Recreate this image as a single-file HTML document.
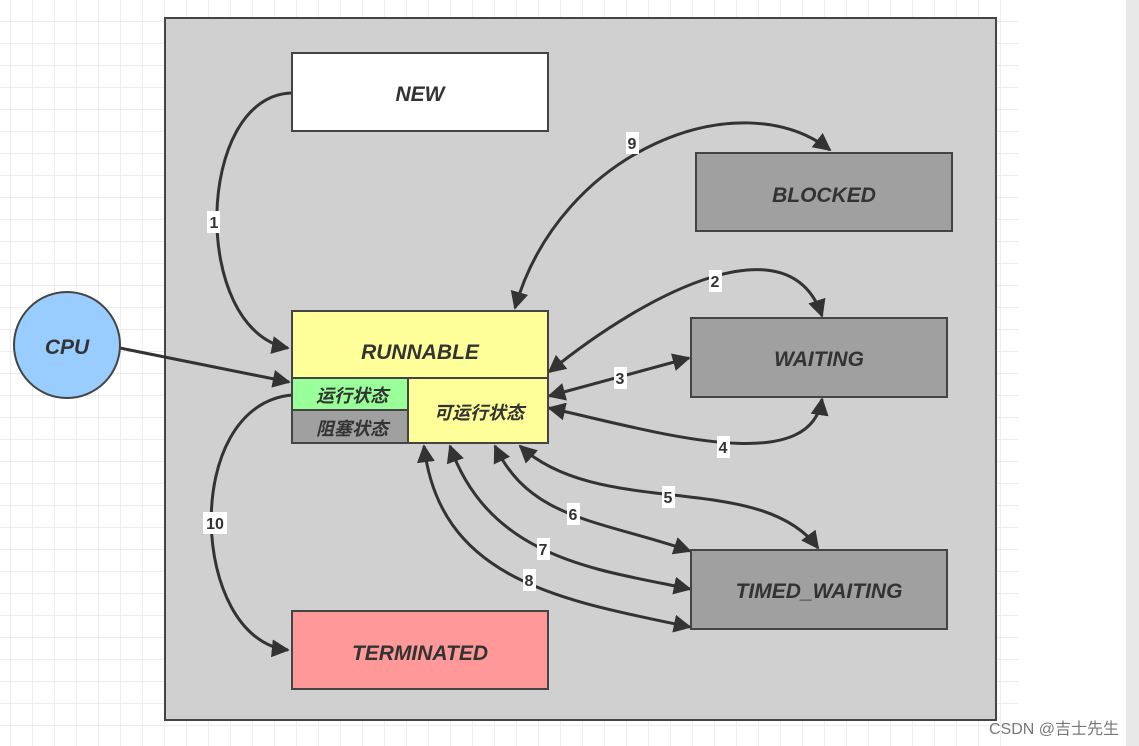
<!DOCTYPE html>
<html><head><meta charset="utf-8"><style>
html,body{margin:0;padding:0;background:#fff;width:1139px;height:746px;overflow:hidden}
svg{display:block}
text{font-family:"Liberation Sans","Noto Sans CJK SC",sans-serif}
.t{font-weight:bold;font-style:italic;font-size:21px;fill:#333;text-anchor:middle}
.c{font-weight:bold;font-style:italic;font-size:18px;fill:#333;text-anchor:middle}
.l{font-weight:bold;font-size:16px;fill:#333;text-anchor:middle}
</style></head><body>
<svg width="1139" height="746" viewBox="0 0 1139 746">
<defs>
<pattern id="g" width="22" height="22" patternUnits="userSpaceOnUse" x="-11" y="0">
<path d="M22 0V22M0 22H22" stroke="#e6e6e6" stroke-width="1.4" fill="none"/>
</pattern>
<marker id="a" viewBox="0 0 10 10" refX="9" refY="5" markerWidth="18" markerHeight="18" markerUnits="userSpaceOnUse" orient="auto-start-reverse">
<path d="M0 0L10 5L0 10z" fill="#333"/>
</marker>
</defs>
<rect x="0" y="0" width="1018" height="746" fill="url(#g)"/>
<rect x="1126" y="0" width="13" height="746" fill="#e8e8e8"/>
<rect x="165" y="18" width="831" height="702" fill="#d0d0d0" stroke="#444" stroke-width="2"/>

<g fill="none" stroke="#333" stroke-width="3">
<path d="M292,93 C195,95 190,330 288,348" marker-end="url(#a)"/>
<path d="M120,348 L289,382" marker-end="url(#a)"/>
<path d="M292,395 C180,405 190,640 288,650" marker-end="url(#a)"/>
<path d="M515,308 C560,150 740,80 830,150" marker-start="url(#a)" marker-end="url(#a)"/>
<path d="M549,372 C650,290 790,220 822,316" marker-start="url(#a)" marker-end="url(#a)"/>
<path d="M549,396 L689,358" marker-start="url(#a)" marker-end="url(#a)"/>
<path d="M549,408 C650,430 810,480 822,399" marker-start="url(#a)" marker-end="url(#a)"/>
<path d="M520,446 C600,520 760,470 818,548" marker-start="url(#a)" marker-end="url(#a)"/>
<path d="M495,446 C530,520 600,520 690,551" marker-start="url(#a)" marker-end="url(#a)"/>
<path d="M450,446 C490,560 600,570 690,589" marker-start="url(#a)" marker-end="url(#a)"/>
<path d="M424,446 C440,580 560,600 690,627" marker-start="url(#a)" marker-end="url(#a)"/>
</g>

<g stroke="#444" stroke-width="2">
<rect x="292" y="53" width="256" height="78" fill="#fff"/>
<rect x="696" y="153" width="256" height="78" fill="#a0a0a0"/>
<rect x="691" y="318" width="256" height="79" fill="#a0a0a0"/>
<rect x="691" y="550" width="256" height="79" fill="#a0a0a0"/>
<rect x="292" y="611" width="256" height="78" fill="#ff9999"/>
<rect x="292" y="311" width="256" height="67" fill="#ffff99"/>
<rect x="408" y="378" width="140" height="65" fill="#ffff99"/>
<rect x="292" y="378" width="116" height="32" fill="#99ff99"/>
<rect x="292" y="410" width="116" height="33" fill="#a0a0a0"/>
<circle cx="67" cy="345" r="53" fill="#99ccff"/>
</g>

<text class="t" x="420" y="101">NEW</text>
<text class="t" x="824" y="202">BLOCKED</text>
<text class="t" x="819" y="366">WAITING</text>
<text class="t" x="819" y="598">TIMED_WAITING</text>
<text class="t" x="420" y="660">TERMINATED</text>
<text class="t" x="420" y="359">RUNNABLE</text>
<text class="t" x="67" y="354">CPU</text>
<text class="c" x="352" y="402">运行状态</text>
<text class="c" x="352" y="435">阻塞状态</text>
<text class="c" x="479" y="419">可运行状态</text>

<g>
<rect x="207" y="211" width="13" height="22" fill="#fff"/><text class="l" x="214" y="228">1</text>
<rect x="203" y="512" width="24" height="22" fill="#fff"/><text class="l" x="215" y="529">10</text>
<rect x="626" y="132" width="13" height="22" fill="#fff"/><text class="l" x="632" y="149">9</text>
<rect x="709" y="270" width="13" height="22" fill="#fff"/><text class="l" x="715" y="287">2</text>
<rect x="614" y="367" width="13" height="22" fill="#fff"/><text class="l" x="620" y="384">3</text>
<rect x="717" y="436" width="13" height="22" fill="#fff"/><text class="l" x="723" y="453">4</text>
<rect x="662" y="486" width="13" height="22" fill="#fff"/><text class="l" x="668" y="503">5</text>
<rect x="567" y="503" width="13" height="22" fill="#fff"/><text class="l" x="573" y="520">6</text>
<rect x="537" y="538" width="13" height="22" fill="#fff"/><text class="l" x="543" y="555">7</text>
<rect x="523" y="569" width="13" height="22" fill="#fff"/><text class="l" x="529" y="586">8</text>
</g>
<text x="1054" y="734" font-size="16" fill="#777" text-anchor="middle">CSDN @吉士先生</text>
</svg>
</body></html>
